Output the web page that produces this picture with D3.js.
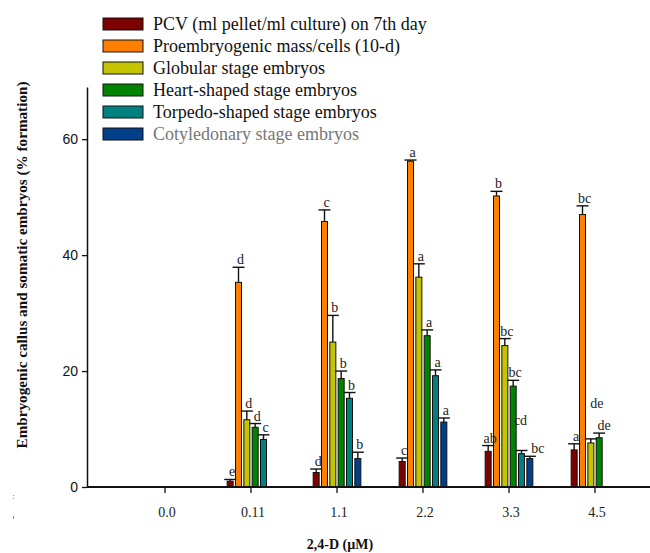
<!DOCTYPE html>
<html>
<head>
<meta charset="utf-8">
<script src="https://cdn.jsdelivr.net/npm/d3@7/dist/d3.min.js"></script>
<style>
  html, body { margin: 0; padding: 0; background: #fff; }
  #chart { width: 650px; height: 553px; }
  .serif { font-family: "Liberation Serif", "Times New Roman", serif; }
</style>
</head>
<body>
<div id="chart"></div>
<script>
// 2,4-D concentrations (uM)
const doses = ["0.0", "0.11", "1.1", "2.2", "3.3", "4.5"];

const seriesNames = [
  "PCV (ml pellet/ml culture) on 7th day",
  "Proembryogenic mass/cells (10-d)",
  "Globular stage embryos",
  "Heart-shaped stage embryos",
  "Torpedo-shaped stage embryos",
  "Cotyledonary stage embryos"
];
const seriesColors = ["#7d0000", "#ff8000", "#c4c400", "#008400", "#008080", "#004088"];

// means per series, one value per dose
const pcv        = [0, 1.0, 2.5, 4.4, 6.15, 6.4];
const proEmb     = [0, 35.3, 45.8, 56.2, 50.2, 47.0];
const globular   = [0, 11.6, 25.0, 36.2, 24.4, 7.6];
const heart      = [0, 10.3, 18.7, 26.1, 17.4, 8.5];
const torpedo    = [0, 8.2, 15.3, 19.2, 5.75, 0];
const cotyledon  = [0, 0, 4.9, 11.2, 4.9, 0];

// error bar heights (SE)
const pcvErr       = [0, 0.3, 0.6, 0.6, 1.0, 1.05];
const proEmbErr    = [0, 2.6, 2.0, 0.2, 0.8, 1.5];
const globularErr  = [0, 1.5, 4.6, 2.3, 1.2, 0.7];
const heartErr     = [0, 0.65, 1.3, 1.0, 1.0, 0.8];
const torpedoErr   = [0, 0.8, 1.0, 1.0, 0.55, 0];
const cotyledonErr = [0, 0, 1.1, 0.7, 0.4, 0];

// significance letters
const pcvSig       = ["", "e", "d", "c", "ab", "a"];
const proEmbSig    = ["", "d", "c", "a", "b", "bc"];
const globularSig  = ["", "d", "b", "a", "bc", "de"];
const heartSig     = ["", "d", "b", "a", "bc", "de"];
const torpedoSig   = ["", "c", "b", "a", "cd", ""];
const cotyledonSig = ["", "", "b", "a", "bc", ""];

const yTicks = [0, 20, 40, 60];

const means = [pcv, proEmb, globular, heart, torpedo, cotyledon];
const errs = [pcvErr, proEmbErr, globularErr, heartErr, torpedoErr, cotyledonErr];
const sigs = [pcvSig, proEmbSig, globularSig, heartSig, torpedoSig, cotyledonSig];

// a few letters sit away from their caps in the original
const labelNudge = {
  "4|3.3": [-3, -22],
  "5|3.3": [6, 0],
  "2|4.5": [4, -28],
  "3|4.5": [3, 0]
};

const rows = [];
seriesNames.forEach((name, si) => {
  doses.forEach((dose, di) => {
    rows.push({ si, dose, value: means[si][di], err: errs[si][di], sig: sigs[si][di] });
  });
});

const width = 650, height = 553;
const margin = { top: 87, left: 87, bottom: 66 };
const plotBottom = height - margin.bottom;

const svg = d3.select("#chart").append("svg")
  .attr("width", width)
  .attr("height", height);

const x0 = d3.scaleBand()
  .domain(doses)
  .range([122, 638])
  .padding(0);

const x1 = d3.scaleBand()
  .domain(d3.range(seriesNames.length))
  .range([x0.bandwidth() / 2 - 25, x0.bandwidth() / 2 + 25])
  .paddingInner(0.28)
  .paddingOuter(0.14);

const y = d3.scaleLinear()
  .domain([0, 69])
  .range([plotBottom, margin.top]);

// bars
const bars = svg.append("g");
bars.selectAll("rect")
  .data(rows.filter(d => d.value > 0))
  .join("rect")
  .attr("x", d => x0(d.dose) + x1(d.si))
  .attr("y", d => y(d.value))
  .attr("width", x1.bandwidth())
  .attr("height", d => y(0) - y(d.value))
  .attr("fill", d => seriesColors[d.si])
  .attr("stroke", "#111")
  .attr("stroke-width", 1);

// error bars
const eb = svg.append("g").attr("stroke", "#111").attr("stroke-width", 1.4);
const withErr = rows.filter(d => d.value > 0);
eb.selectAll("line.v")
  .data(withErr)
  .join("line")
  .attr("class", "v")
  .attr("x1", d => x0(d.dose) + x1(d.si) + x1.bandwidth() / 2)
  .attr("x2", d => x0(d.dose) + x1(d.si) + x1.bandwidth() / 2)
  .attr("y1", d => y(d.value))
  .attr("y2", d => y(d.value + d.err));
eb.selectAll("line.cap")
  .data(withErr)
  .join("line")
  .attr("class", "cap")
  .attr("x1", d => x0(d.dose) + x1(d.si) + x1.bandwidth() / 2 - 6)
  .attr("x2", d => x0(d.dose) + x1(d.si) + x1.bandwidth() / 2 + 6)
  .attr("y1", d => y(d.value + d.err))
  .attr("y2", d => y(d.value + d.err));

// letters
svg.append("g")
  .selectAll("text")
  .data(rows.filter(d => d.sig))
  .join("text")
  .attr("class", "serif")
  .attr("x", d => {
    const n = labelNudge[d.si + "|" + d.dose] || [0, 0];
    return x0(d.dose) + x1(d.si) + x1.bandwidth() / 2 + 2 + n[0];
  })
  .attr("y", d => {
    const n = labelNudge[d.si + "|" + d.dose] || [0, 0];
    return y(d.value + d.err) - 3 + n[1];
  })
  .attr("text-anchor", "middle")
  .attr("font-size", 14)
  .attr("fill", "#222")
  .text(d => d.sig);

// y axis
const yAxis = svg.append("g")
  .attr("transform", `translate(${margin.left},0)`)
  .call(d3.axisLeft(y).tickValues(yTicks).tickSize(5).tickSizeOuter(0).tickPadding(4).tickFormat(d3.format("d")));
yAxis.select(".domain").attr("stroke", "#111").attr("stroke-width", 1.5);
yAxis.selectAll(".tick line").attr("stroke", "#111").attr("stroke-width", 1.3);
yAxis.selectAll("text")
  .style("font-family", "'Liberation Sans', Arial, sans-serif")
  .style("font-size", "14px")
  .attr("fill", "#111");

// x axis
const xAxis = svg.append("g")
  .attr("transform", `translate(0,${plotBottom})`)
  .call(d3.axisBottom(x0).tickSize(6).tickSizeOuter(0).tickPadding(14));
xAxis.select(".domain").remove();
xAxis.selectAll(".tick line").attr("stroke", "#111").attr("stroke-width", 1.3);
xAxis.selectAll("text")
  .attr("class", "serif")
  .attr("dx", 2)
  .style("font-size", "14px")
  .attr("fill", "#222");

svg.append("line")
  .attr("x1", margin.left)
  .attr("x2", width)
  .attr("y1", plotBottom)
  .attr("y2", plotBottom)
  .attr("stroke", "#111")
  .attr("stroke-width", 2);

// axis titles
svg.append("text")
  .attr("class", "serif")
  .attr("x", 340)
  .attr("y", 549)
  .attr("text-anchor", "middle")
  .attr("font-weight", "bold")
  .attr("font-size", 14)
  .attr("fill", "#111")
  .text("2,4-D (\u00b5M)");

svg.append("text")
  .attr("class", "serif")
  .attr("transform", `translate(27,${265}) rotate(-90)`)
  .attr("text-anchor", "middle")
  .attr("font-weight", "bold")
  .attr("font-size", 15.2)
  .attr("fill", "#111")
  .text("Embryogenic callus and somatic embryos (% formation)");

// stray marks at lower left
svg.append("line").attr("x1", 13.5).attr("x2", 13.5).attr("y1", 495).attr("y2", 501)
  .attr("stroke", "#888").attr("stroke-width", 1).attr("stroke-dasharray", "1,2");
svg.append("line").attr("x1", 13.5).attr("x2", 13.5).attr("y1", 516).attr("y2", 519)
  .attr("stroke", "#888").attr("stroke-width", 1);

// legend
const legend = svg.append("g").attr("transform", "translate(103,18)");
const item = legend.selectAll("g")
  .data(seriesNames)
  .join("g")
  .attr("transform", (d, i) => `translate(0,${i * 22})`);
item.append("rect")
  .attr("width", 40)
  .attr("height", 12)
  .attr("fill", (d, i) => seriesColors[i])
  .attr("stroke", "#111")
  .attr("stroke-width", 1);
item.append("text")
  .attr("class", "serif")
  .attr("x", 50)
  .attr("y", 12)
  .attr("font-size", 18)
  .attr("fill", (d, i) => i === 5 ? "#777" : "#111")
  .text(d => d);
</script>
</body>
</html>
